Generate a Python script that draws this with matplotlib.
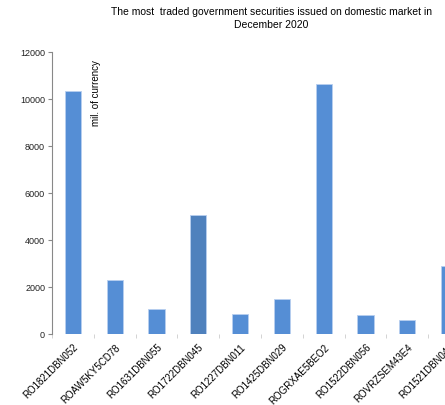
import numpy as np
import matplotlib.pyplot as plt

plt.rcParams['font.family'] = ['Liberation Sans', 'DejaVu Sans']

securities = ['RO1821DBN052', 'ROAW5KY5CD78', 'RO1631DBN055', 'RO1722DBN045',
              'RO1227DBN011', 'RO1425DBN029', 'ROGRXAE5BEO2', 'RO1522DBN056',
              'ROVRZSEM43E4', 'RO1521DBN044']
volumes = [10340, 2300, 1050, 5060, 865, 1490, 10640, 810, 585, 2890]
colors = ['#558ed5'] * len(volumes)
colors[3] = '#4f81bd'

fig = plt.figure(figsize=(4.45, 4.05), dpi=100)
ax = fig.add_axes([0.1169, 0.1753, 0.9393, 0.6963])

x = np.arange(len(securities))
ax.bar(x, volumes, width=0.39, color=colors, edgecolor='#b8cff0', linewidth=0.6)

ax.set_xlim(-0.5, len(securities) - 0.5)
ax.set_ylim(0, 12000)
ax.set_yticks(np.arange(0, 12001, 2000))
ax.tick_params(axis='y', labelsize=6.5, length=3, color='#888888', pad=2, labelcolor='#222222')

ax.set_xticks(x)
ax.set_xticklabels(securities, rotation=45, ha='right', rotation_mode='anchor', fontsize=7)
ax.tick_params(axis='x', length=0, pad=6)
ax.set_xticks(np.arange(-0.5, len(securities), 1), minor=True)
ax.tick_params(axis='x', which='minor', length=3, color='#cccccc')

for s in ['top', 'right', 'bottom']:
    ax.spines[s].set_visible(False)
ax.spines['left'].set_color('#888888')
ax.spines['left'].set_linewidth(0.8)

ax.text(0.55, 11650, 'mil. of currency', rotation=90, fontsize=7,
        ha='center', va='top')

fig.text(0.61, 0.982, 'The most  traded government securities issued on domestic market in\nDecember 2020',
         ha='center', va='top', fontsize=7.5, linespacing=1.3)

fig.savefig('out.png', dpi=100)
